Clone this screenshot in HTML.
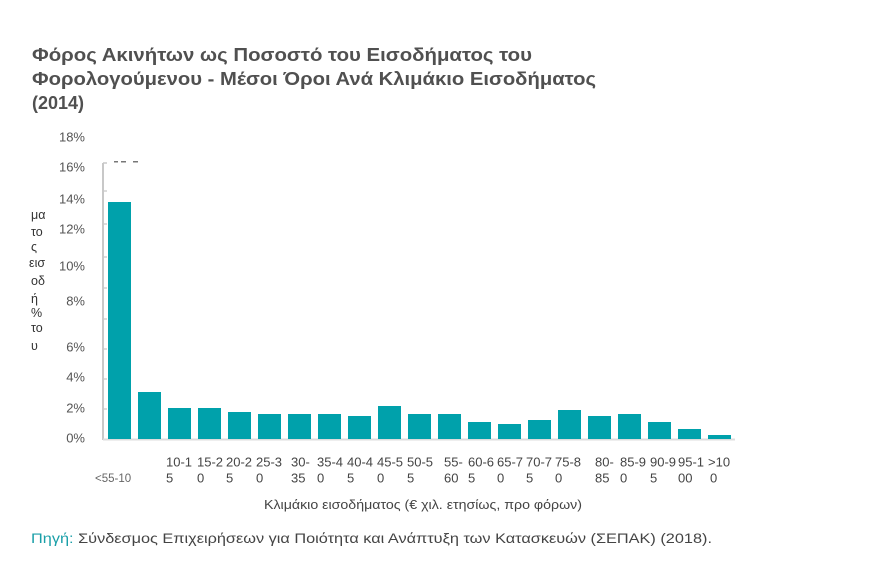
<!DOCTYPE html>
<html><head><meta charset="utf-8"><style>
html,body{margin:0;padding:0;background:#fff;}
svg{display:block;}
text{font-family:"Liberation Sans","DejaVu Sans",sans-serif;}
</style></head><body>
<svg width="880" height="566" viewBox="0 0 880 566" xmlns="http://www.w3.org/2000/svg">
<rect width="880" height="566" fill="#fff"/>
<!-- title -->
<g font-size="18" font-weight="bold" fill="#505050">
<text x="32" y="61" textLength="500" lengthAdjust="spacingAndGlyphs">Φόρος Ακινήτων ως Ποσοστό του Εισοδήματος του</text>
<text x="32" y="85" textLength="564" lengthAdjust="spacingAndGlyphs">Φορολογούμενου - Μέσοι Όροι Ανά Κλιμάκιο Εισοδήματος</text>
<text x="32" y="109">(2014)</text>
</g>
<!-- y labels -->
<g font-size="13" fill="#555" text-anchor="end">
<text x="85" y="141.5">18%</text>
<text x="85" y="171.5">16%</text>
<text x="85" y="203.5">14%</text>
<text x="85" y="233.5">12%</text>
<text x="85" y="270.5">10%</text>
<text x="85" y="305.5">8%</text>
<text x="85" y="351.5">6%</text>
<text x="85" y="381.5">4%</text>
<text x="85" y="412.5">2%</text>
<text x="85" y="442.5">0%</text>
</g>
<!-- y axis title fragments -->
<g font-size="12.5" fill="#333">
<text x="31" y="219">μα</text>
<text x="31" y="236">το</text>
<text x="31" y="251">ς</text>
<text x="29" y="267">εισ</text>
<text x="31" y="285">οδ</text>
<text x="31" y="303">ή</text>
<text x="31" y="317">%</text>
<text x="31" y="332">το</text>
<text x="31" y="350">υ</text>
</g>
<!-- axis -->
<line x1="103" y1="163" x2="103" y2="440" stroke="#c8c8c8" stroke-width="2"/>
<line x1="103" y1="163" x2="107" y2="163" stroke="#c8c8c8" stroke-width="1.5"/>
<g stroke="#d0d0d0" stroke-width="1.5">
<line x1="104" y1="191" x2="107" y2="191"/>
<line x1="104" y1="224" x2="107" y2="224"/>
<line x1="104" y1="257" x2="107" y2="257"/>
<line x1="104" y1="288" x2="107" y2="288"/>
<line x1="104" y1="319" x2="107" y2="319"/>
<line x1="104" y1="349" x2="107" y2="349"/>
<line x1="104" y1="379" x2="107" y2="379"/>
<line x1="104" y1="409" x2="107" y2="409"/>
</g>
<!-- clipped data label -->
<g fill="#777">
<rect x="114" y="161" width="4" height="1.5"/>
<rect x="121" y="161" width="5" height="1.5"/>
<rect x="133" y="161" width="5" height="1.5"/>
</g>
<!-- baseline -->
<line x1="103" y1="439.5" x2="735" y2="439.5" stroke="#dcdcdc" stroke-width="2"/>
<!-- bars -->
<g fill="#00a1ab">
<rect x="108" y="202" width="23" height="237"/>
<rect x="138" y="392" width="23" height="47"/>
<rect x="168" y="408" width="23" height="31"/>
<rect x="198" y="408" width="23" height="31"/>
<rect x="228" y="412" width="23" height="27"/>
<rect x="258" y="414" width="23" height="25"/>
<rect x="288" y="414" width="23" height="25"/>
<rect x="318" y="414" width="23" height="25"/>
<rect x="348" y="416" width="23" height="23"/>
<rect x="378" y="406" width="23" height="33"/>
<rect x="408" y="414" width="23" height="25"/>
<rect x="438" y="414" width="23" height="25"/>
<rect x="468" y="422" width="23" height="17"/>
<rect x="498" y="424" width="23" height="15"/>
<rect x="528" y="420" width="23" height="19"/>
<rect x="558" y="410" width="23" height="29"/>
<rect x="588" y="416" width="23" height="23"/>
<rect x="618" y="414" width="23" height="25"/>
<rect x="648" y="422" width="23" height="17"/>
<rect x="678" y="429" width="23" height="10"/>
<rect x="708" y="435" width="23" height="4"/>
</g>
<!-- x labels -->
<text x="95" y="482" font-size="11.5" fill="#666">&lt;55-10</text>
<g font-size="13" fill="#444">
<text x="166" y="466.5">10-1</text><text x="166" y="482.5">5</text>
<text x="197" y="466.5">15-2</text><text x="197" y="482.5">0</text>
<text x="226" y="466.5">20-2</text><text x="226" y="482.5">5</text>
<text x="256" y="466.5">25-3</text><text x="256" y="482.5">0</text>
<text x="291" y="466.5">30-</text><text x="291" y="482.5">35</text>
<text x="317" y="466.5">35-4</text><text x="317" y="482.5">0</text>
<text x="347" y="466.5">40-4</text><text x="347" y="482.5">5</text>
<text x="377" y="466.5">45-5</text><text x="377" y="482.5">0</text>
<text x="407" y="466.5">50-5</text><text x="407" y="482.5">5</text>
<text x="444" y="466.5">55-</text><text x="444" y="482.5">60</text>
<text x="468" y="466.5">60-6</text><text x="468" y="482.5">5</text>
<text x="497" y="466.5">65-7</text><text x="497" y="482.5">0</text>
<text x="526" y="466.5">70-7</text><text x="526" y="482.5">5</text>
<text x="555" y="466.5">75-8</text><text x="555" y="482.5">0</text>
<text x="595" y="466.5">80-</text><text x="595" y="482.5">85</text>
<text x="620" y="466.5">85-9</text><text x="620" y="482.5">0</text>
<text x="650" y="466.5">90-9</text><text x="650" y="482.5">5</text>
<text x="678" y="466.5">95-1</text><text x="678" y="482.5">00</text>
<text x="708" y="466.5">&gt;10</text><text x="710" y="482.5">0</text>
</g>
<!-- x axis title -->
<text x="264" y="509" font-size="12.5" fill="#444" textLength="318" lengthAdjust="spacingAndGlyphs">Κλιμάκιο εισοδήματος (€ χιλ. ετησίως, προ φόρων)</text>
<!-- source -->
<text x="31" y="543" font-size="14" fill="#444" textLength="681" lengthAdjust="spacingAndGlyphs"><tspan fill="#1a9fa8">Πηγή:</tspan> Σύνδεσμος Επιχειρήσεων για Ποιότητα και Ανάπτυξη των Κατασκευών (ΣΕΠΑΚ) (2018).</text>
</svg>
</body></html>
